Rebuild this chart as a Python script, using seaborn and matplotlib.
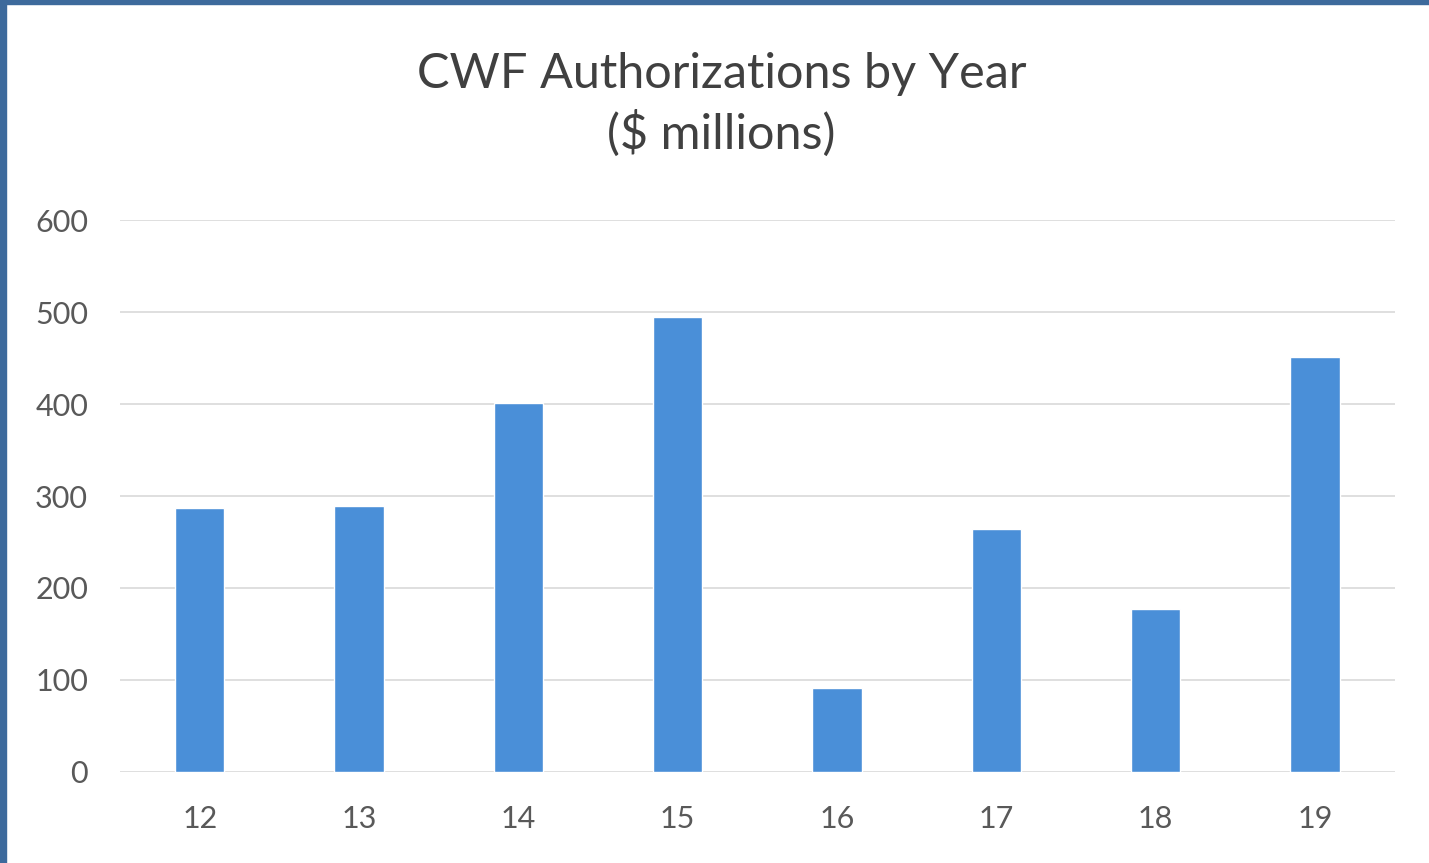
import matplotlib
matplotlib.use("Agg")
import pandas as pd
import seaborn as sns
import matplotlib.pyplot as plt
from matplotlib.patches import Rectangle

years = ["12", "13", "14", "15", "16", "17", "18", "19"]
amounts = [287, 289, 401, 495, 91, 264, 177, 451]
yticks = [0, 100, 200, 300, 400, 500, 600]

df = pd.DataFrame({"Year": years, "Amount": amounts})

sns.set_style("white")
plt.rcParams["font.family"] = ["Lato", "DejaVu Sans"]

fig = plt.figure(figsize=(14.29, 8.63), dpi=100)
ax = fig.add_axes([0.084, 0.1055, 0.892, 0.6395])

sns.barplot(data=df, x="Year", y="Amount", color="#4a8fd8", saturation=1,
            width=0.31, ax=ax, zorder=3)

ax.set_ylim(0, 600)
ax.set_xlim(-0.5, 7.5)
ax.set_yticks(yticks)
ax.yaxis.grid(True, color="#d9d9d9", linewidth=1.2, zorder=0)
ax.set_axisbelow(True)
sns.despine(ax=ax, left=True, bottom=True)
ax.tick_params(axis="both", length=0, labelsize=22, labelcolor="#595959")
ax.tick_params(axis="x", pad=24)
ax.tick_params(axis="y", pad=23)
ax.set_xlabel("")
ax.set_ylabel("")

fig.text(0.505, 0.879, "CWF Authorizations by Year\n($ millions)", ha="center",
         va="center", fontsize=35, color="#404040", linespacing=1.34)

# blue frame on the left and top edges
fig.add_artist(Rectangle((0, 0), 6 / 1429, 1, transform=fig.transFigure,
                         color="#3d6a9c", zorder=10))
fig.add_artist(Rectangle((0, 1 - 4 / 863), 1, 4 / 863, transform=fig.transFigure,
                         color="#3d6a9c", zorder=10))

fig.savefig("out.png", dpi=100)
